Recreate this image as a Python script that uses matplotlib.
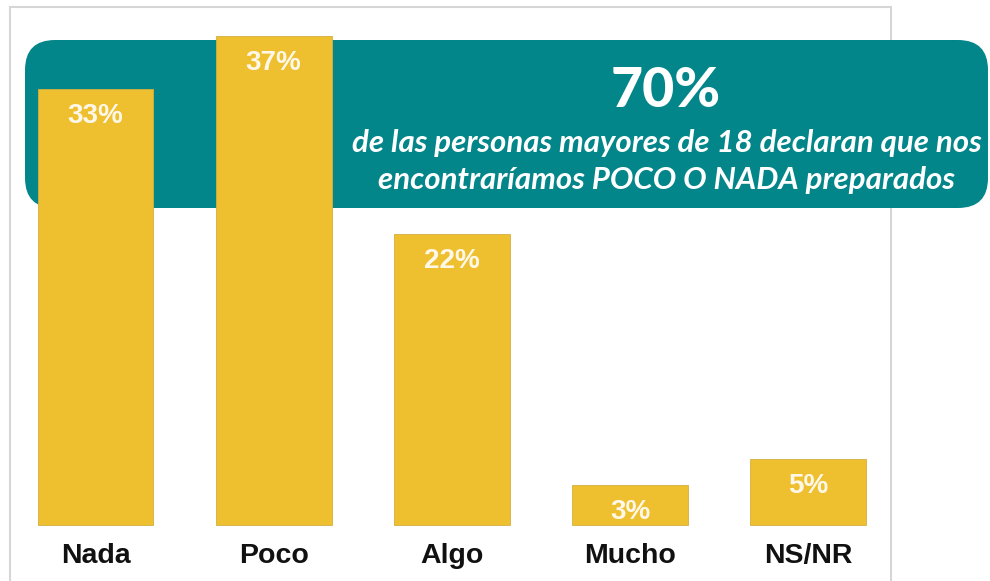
import matplotlib
matplotlib.use("Agg")
import matplotlib.pyplot as plt
from matplotlib.patches import FancyBboxPatch, Rectangle

# ── Data ──────────────────────────────────────────────────────────────────────
categories = ["Nada", "Poco", "Algo", "Mucho", "NS/NR"]
values = [33, 37, 22, 3, 5]
value_labels = ["33%", "37%", "22%", "3%", "5%"]
headline = "70%"
headline_text = ["de las personas mayores de 18 declaran que nos",
                 "encontraríamos POCO O NADA preparados"]

BAR = "#EEBF2F"
TEAL = "#03868A"

W, H, DPI = 990, 581, 100
fig = plt.figure(figsize=(W / DPI, H / DPI), dpi=DPI)
ax = fig.add_axes([0, 0, 1, 1])
ax.set_axis_off()

# pixel geometry of the plot: bar centres every 178.2 px from x=95.5, baseline y=525
step, x0 = 178.2, 95.5
ppu, base = 13.22, 525
ax.set_xlim(-x0 / step, (W - x0) / step)
ax.set_ylim(-(H - base) / ppu, base / ppu)

# outer light frame (under the banner)
ax.add_patch(Rectangle((10 / DPI, -0.2), 881 / DPI, (H - 7) / DPI + 0.2,
                       transform=fig.dpi_scale_trans, fill=False,
                       edgecolor="#D6D6D6", linewidth=1.5, zorder=0,
                       clip_on=False))

# teal banner (behind the bars)
ax.add_patch(FancyBboxPatch((25 / DPI, (H - 208) / DPI), 963 / DPI, 168 / DPI,
                            boxstyle="round,pad=0,rounding_size=0.3",
                            transform=fig.dpi_scale_trans, facecolor=TEAL,
                            edgecolor="none", zorder=1, clip_on=False))

xs = range(len(categories))
ax.bar(xs, values, width=0.65, color=BAR, edgecolor="#D4B040",
       linewidth=0.6, zorder=2)

for x, v, lab in zip(xs, values, value_labels):
    ax.text(x, v - 2.05, lab, ha="center", va="center", color="#FFF8E8",
            fontsize=20, fontweight="bold", family="Liberation Sans", zorder=3)

for x, c in zip(xs, categories):
    ax.text(x, -2.35, c, ha="center", va="center", color="#111111",
            fontsize=20.5, fontweight="bold", family="Liberation Sans")

# banner texts
ax.text(666 / W, 1 - 91 / H, headline, ha="center", va="center",
        transform=fig.transFigure, color="white", fontsize=40,
        fontweight="black", family="Lato", zorder=4)
for i, line in enumerate(headline_text):
    ax.text(667 / W, 1 - (143 + 37 * i) / H, line, ha="center", va="center",
            transform=fig.transFigure, color="white", fontsize=22.5,
            fontweight="bold", style="italic", family="Lato", zorder=4)

fig.savefig("out.png", dpi=DPI)
